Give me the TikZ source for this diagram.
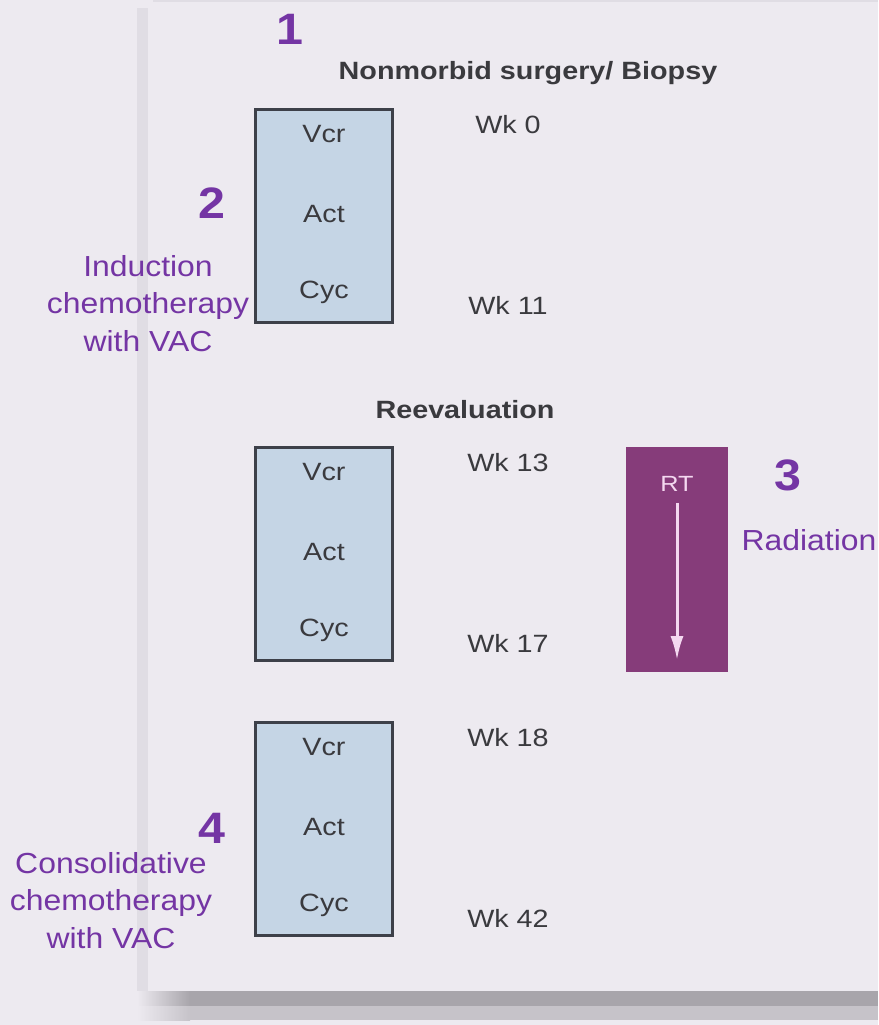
\documentclass[tikz,border=0pt]{standalone}
\usepackage{fontspec}
\setmainfont{Liberation Sans}[FakeStretch=1.15]
\newfontfamily\notefont{Liberation Sans}[FakeStretch=1.1]
\usetikzlibrary{positioning,arrows.meta}

\definecolor{canvas}{HTML}{EDEAF0}
\definecolor{stripe}{HTML}{E0DDE4}
\definecolor{bandtop}{HTML}{A8A5AB}
\definecolor{bandlow}{HTML}{C6C3C9}
\definecolor{boxfill}{HTML}{C5D5E5}
\definecolor{boxline}{HTML}{3D4049}
\definecolor{inktext}{HTML}{3A3A3E}
\definecolor{notepurple}{HTML}{7435A4}
\definecolor{rtfill}{HTML}{863C7A}
\definecolor{rtink}{HTML}{F4D8F0}

\tikzset{
  drugbox/.style={draw=boxline, line width=3pt, fill=boxfill,
    minimum width=137pt, minimum height=213pt, inner sep=0pt},
  drug/.style={anchor=base, inner sep=0pt, text=inktext,
    font=\fontsize{25}{30}\selectfont},
  stage/.style={anchor=base, inner sep=0pt, text=inktext,
    font=\fontsize{25}{30}\selectfont\bfseries},
  num/.style={anchor=base, inner sep=0pt, text=notepurple,
    font=\notefont\fontsize{44}{44}\selectfont\bfseries},
  note/.style={anchor=base, inner sep=0pt, align=center, text=notepurple,
    font=\notefont\fontsize{29}{37.5}\selectfont},
  rtbox/.style={fill=rtfill, minimum width=102pt, minimum height=225pt, inner sep=0pt},
  rtarrow/.style={draw=rtink, line width=3pt, -{Latex[length=24pt,width=13pt]}},
}

\begin{document}
\begin{tikzpicture}[x=1pt, y=-1pt]
    % page and its frame
    \useasboundingbox (0,0) rectangle (878,1025);
    \fill[canvas] (0,0) rectangle (878,1025);
    \fill[stripe] (137,8) rectangle (148,991);
    \fill[stripe] (153,0) rectangle (878,2);
    \shade[left color=canvas, right color=bandtop] (137,991) rectangle (190,1006);
    \fill[bandtop] (190,991) rectangle (878,1006);
    \shade[left color=canvas, right color=bandlow] (137,1006) rectangle (190,1020);
    \fill[bandlow] (190,1006) rectangle (878,1020);

    % the three VAC blocks
    \foreach \i/\ty/\wka/\wkb in {1/108/0/11, 2/446/13/17, 3/721/18/42} {
        \node[drugbox] (vac\i) at (324,\ty+108) {};
        \node[drug] (vcr\i) at ([yshift=-34pt]vac\i.north) {Vcr};
        \node[drug] (act\i) at ([yshift=-114pt]vac\i.north) {Act};
        \node[drug] (cyc\i) at ([yshift=-190pt]vac\i.north) {Cyc};
        \node[drug] (wka\i) at ([xshift=184pt,yshift=-25pt]vac\i.north) {Wk \wka};
        \node[drug] (wkb\i) at ([xshift=184pt,yshift=-206pt]vac\i.north) {Wk \wkb};
    }

    \node[stage] (surgery) at (528,80) {Nonmorbid surgery/ Biopsy};
    \node[stage] (reeval) at (465,418) {Reevaluation};

    % radiation
    \node[rtbox] (rt) at (677,559.5) {};
    \node[anchor=base, inner sep=0pt, text=rtink, font=\fontsize{22}{26}\selectfont]
        (rtlabel) at ([yshift=-45pt]rt.north) {RT};
    \coordinate (rtstart) at ([yshift=-56pt]rt.north);
    \coordinate (rtend) at ([yshift=12pt]rt.south);
    \draw[rtarrow] (rtstart) -- (rtend);

    % purple notes (base = last line)
    \node[num] (n1) at (290,45) {1};
    \node[num] (n2) at (212,218) {2};
    \node[num] (n3) at (788,490) {3};
    \node[num] (n4) at (212,843) {4};
    \node[note] (induction) at (148,351) {Induction\\chemotherapy\\with VAC};
    \node[note] (radiation) at (809,550) {Radiation};
    \node[note] (consol) at (111,948) {Consolidative\\chemotherapy\\with VAC};
\end{tikzpicture}
\end{document}
